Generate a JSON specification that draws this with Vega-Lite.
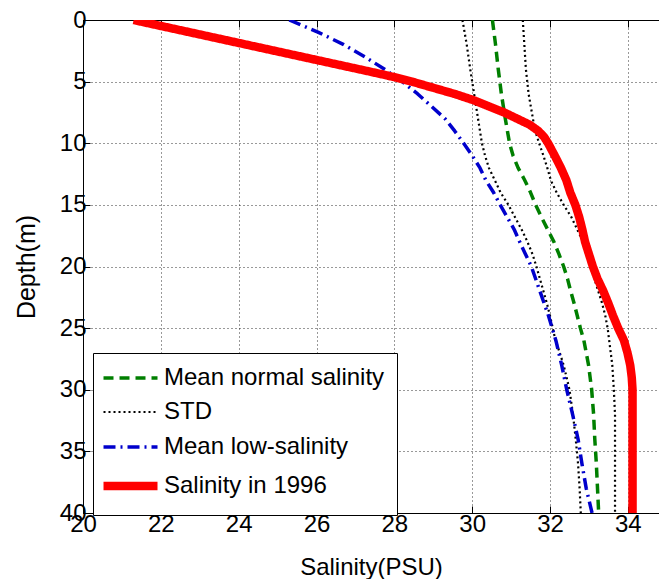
{
  "$schema": "https://vega.github.io/schema/vega-lite/v6.json",
  "autosize": {"type": "none"},
  "padding": {"left": 83, "top": 20, "right": 0, "bottom": 66},
  "width": 576,
  "height": 493,
  "background": "white",
  "config": {
    "view": {"stroke": null},
    "font": "Liberation Sans",
    "axis": {
      "domainColor": "black",
      "domainWidth": 1,
      "labelColor": "black",
      "labelFont": "Liberation Sans",
      "labelFontSize": 24,
      "labelOverlap": false,
      "labelFlush": false,
      "labelBound": false,
      "titleFont": "Liberation Sans",
      "titleFontSize": 24,
      "titleFontWeight": "normal",
      "titleColor": "black",
      "tickColor": "black",
      "tickSize": -7,
      "tickWidth": 1,
      "gridColor": "black",
      "gridDash": [1, 3],
      "gridOpacity": 0.8,
      "gridWidth": 1
    },
    "legend": {
      "orient": "none",
      "legendX": 10,
      "legendY": 333,
      "padding": 12,
      "strokeColor": "black",
      "fillColor": "white",
      "symbolType": "M-1.545,0H3.364",
      "symbolSize": 484,
      "labelFont": "Liberation Sans",
      "labelFontSize": 24,
      "labelColor": "black",
      "labelOffset": 28,
      "labelLimit": 400,
      "rowPadding": 9.5,
      "title": null
    }
  },
  "data": {
    "values": [
      {"series": "Mean normal salinity", "line": "g", "depth": 0, "salinity": 30.52},
      {"series": "Mean normal salinity", "line": "g", "depth": 2, "salinity": 30.6},
      {"series": "Mean normal salinity", "line": "g", "depth": 4, "salinity": 30.67},
      {"series": "Mean normal salinity", "line": "g", "depth": 6, "salinity": 30.75},
      {"series": "Mean normal salinity", "line": "g", "depth": 8, "salinity": 30.85},
      {"series": "Mean normal salinity", "line": "g", "depth": 10, "salinity": 30.96},
      {"series": "Mean normal salinity", "line": "g", "depth": 11, "salinity": 31.05},
      {"series": "Mean normal salinity", "line": "g", "depth": 12, "salinity": 31.18},
      {"series": "Mean normal salinity", "line": "g", "depth": 13, "salinity": 31.35},
      {"series": "Mean normal salinity", "line": "g", "depth": 14, "salinity": 31.5},
      {"series": "Mean normal salinity", "line": "g", "depth": 15, "salinity": 31.63},
      {"series": "Mean normal salinity", "line": "g", "depth": 16, "salinity": 31.78},
      {"series": "Mean normal salinity", "line": "g", "depth": 17, "salinity": 31.94},
      {"series": "Mean normal salinity", "line": "g", "depth": 18, "salinity": 32.1},
      {"series": "Mean normal salinity", "line": "g", "depth": 19, "salinity": 32.23},
      {"series": "Mean normal salinity", "line": "g", "depth": 20, "salinity": 32.35},
      {"series": "Mean normal salinity", "line": "g", "depth": 21, "salinity": 32.45},
      {"series": "Mean normal salinity", "line": "g", "depth": 22, "salinity": 32.53},
      {"series": "Mean normal salinity", "line": "g", "depth": 23, "salinity": 32.62},
      {"series": "Mean normal salinity", "line": "g", "depth": 24, "salinity": 32.7},
      {"series": "Mean normal salinity", "line": "g", "depth": 25, "salinity": 32.78},
      {"series": "Mean normal salinity", "line": "g", "depth": 26, "salinity": 32.87},
      {"series": "Mean normal salinity", "line": "g", "depth": 27, "salinity": 32.93},
      {"series": "Mean normal salinity", "line": "g", "depth": 28, "salinity": 32.99},
      {"series": "Mean normal salinity", "line": "g", "depth": 30, "salinity": 33.07},
      {"series": "Mean normal salinity", "line": "g", "depth": 32, "salinity": 33.12},
      {"series": "Mean normal salinity", "line": "g", "depth": 34, "salinity": 33.15},
      {"series": "Mean normal salinity", "line": "g", "depth": 36, "salinity": 33.19},
      {"series": "Mean normal salinity", "line": "g", "depth": 38, "salinity": 33.22},
      {"series": "Mean normal salinity", "line": "g", "depth": 40, "salinity": 33.25},

      {"series": "STD", "line": "stdL", "depth": 0, "salinity": 29.75},
      {"series": "STD", "line": "stdL", "depth": 2, "salinity": 29.86},
      {"series": "STD", "line": "stdL", "depth": 4, "salinity": 29.95},
      {"series": "STD", "line": "stdL", "depth": 6, "salinity": 30.05},
      {"series": "STD", "line": "stdL", "depth": 8, "salinity": 30.15},
      {"series": "STD", "line": "stdL", "depth": 10, "salinity": 30.25},
      {"series": "STD", "line": "stdL", "depth": 11, "salinity": 30.33},
      {"series": "STD", "line": "stdL", "depth": 12, "salinity": 30.43},
      {"series": "STD", "line": "stdL", "depth": 13, "salinity": 30.58},
      {"series": "STD", "line": "stdL", "depth": 14, "salinity": 30.73},
      {"series": "STD", "line": "stdL", "depth": 15, "salinity": 30.93},
      {"series": "STD", "line": "stdL", "depth": 16, "salinity": 31.1},
      {"series": "STD", "line": "stdL", "depth": 17, "salinity": 31.27},
      {"series": "STD", "line": "stdL", "depth": 18, "salinity": 31.42},
      {"series": "STD", "line": "stdL", "depth": 19, "salinity": 31.55},
      {"series": "STD", "line": "stdL", "depth": 20, "salinity": 31.65},
      {"series": "STD", "line": "stdL", "depth": 21, "salinity": 31.74},
      {"series": "STD", "line": "stdL", "depth": 22, "salinity": 31.83},
      {"series": "STD", "line": "stdL", "depth": 23, "salinity": 31.92},
      {"series": "STD", "line": "stdL", "depth": 24, "salinity": 32.0},
      {"series": "STD", "line": "stdL", "depth": 25, "salinity": 32.07},
      {"series": "STD", "line": "stdL", "depth": 26, "salinity": 32.14},
      {"series": "STD", "line": "stdL", "depth": 27, "salinity": 32.25},
      {"series": "STD", "line": "stdL", "depth": 28, "salinity": 32.35},
      {"series": "STD", "line": "stdL", "depth": 30, "salinity": 32.5},
      {"series": "STD", "line": "stdL", "depth": 32, "salinity": 32.59},
      {"series": "STD", "line": "stdL", "depth": 34, "salinity": 32.66},
      {"series": "STD", "line": "stdL", "depth": 36, "salinity": 32.72},
      {"series": "STD", "line": "stdL", "depth": 38, "salinity": 32.76},
      {"series": "STD", "line": "stdL", "depth": 40, "salinity": 32.79},

      {"series": "STD", "line": "stdR", "depth": 0, "salinity": 31.3},
      {"series": "STD", "line": "stdR", "depth": 2, "salinity": 31.34},
      {"series": "STD", "line": "stdR", "depth": 4, "salinity": 31.38},
      {"series": "STD", "line": "stdR", "depth": 6, "salinity": 31.45},
      {"series": "STD", "line": "stdR", "depth": 8, "salinity": 31.56},
      {"series": "STD", "line": "stdR", "depth": 9, "salinity": 31.62},
      {"series": "STD", "line": "stdR", "depth": 10, "salinity": 31.72},
      {"series": "STD", "line": "stdR", "depth": 11, "salinity": 31.83},
      {"series": "STD", "line": "stdR", "depth": 12, "salinity": 31.93},
      {"series": "STD", "line": "stdR", "depth": 13, "salinity": 32.02},
      {"series": "STD", "line": "stdR", "depth": 14, "salinity": 32.17},
      {"series": "STD", "line": "stdR", "depth": 15, "salinity": 32.35},
      {"series": "STD", "line": "stdR", "depth": 16, "salinity": 32.55},
      {"series": "STD", "line": "stdR", "depth": 17, "salinity": 32.7},
      {"series": "STD", "line": "stdR", "depth": 18, "salinity": 32.85},
      {"series": "STD", "line": "stdR", "depth": 19, "salinity": 32.95},
      {"series": "STD", "line": "stdR", "depth": 20, "salinity": 33.05},
      {"series": "STD", "line": "stdR", "depth": 21, "salinity": 33.14},
      {"series": "STD", "line": "stdR", "depth": 22, "salinity": 33.24},
      {"series": "STD", "line": "stdR", "depth": 23, "salinity": 33.34},
      {"series": "STD", "line": "stdR", "depth": 24, "salinity": 33.42},
      {"series": "STD", "line": "stdR", "depth": 25, "salinity": 33.48},
      {"series": "STD", "line": "stdR", "depth": 26, "salinity": 33.52},
      {"series": "STD", "line": "stdR", "depth": 27, "salinity": 33.56},
      {"series": "STD", "line": "stdR", "depth": 28, "salinity": 33.6},
      {"series": "STD", "line": "stdR", "depth": 30, "salinity": 33.64},
      {"series": "STD", "line": "stdR", "depth": 32, "salinity": 33.67},
      {"series": "STD", "line": "stdR", "depth": 40, "salinity": 33.67},

      {"series": "Mean low-salinity", "line": "b", "depth": 0, "salinity": 25.3},
      {"series": "Mean low-salinity", "line": "b", "depth": 1, "salinity": 26.05},
      {"series": "Mean low-salinity", "line": "b", "depth": 2, "salinity": 26.7},
      {"series": "Mean low-salinity", "line": "b", "depth": 3, "salinity": 27.25},
      {"series": "Mean low-salinity", "line": "b", "depth": 4, "salinity": 27.75},
      {"series": "Mean low-salinity", "line": "b", "depth": 5, "salinity": 28.2},
      {"series": "Mean low-salinity", "line": "b", "depth": 6, "salinity": 28.6},
      {"series": "Mean low-salinity", "line": "b", "depth": 7, "salinity": 28.95},
      {"series": "Mean low-salinity", "line": "b", "depth": 8, "salinity": 29.3},
      {"series": "Mean low-salinity", "line": "b", "depth": 9, "salinity": 29.55},
      {"series": "Mean low-salinity", "line": "b", "depth": 10, "salinity": 29.78},
      {"series": "Mean low-salinity", "line": "b", "depth": 11, "salinity": 30.0},
      {"series": "Mean low-salinity", "line": "b", "depth": 12, "salinity": 30.2},
      {"series": "Mean low-salinity", "line": "b", "depth": 13, "salinity": 30.35},
      {"series": "Mean low-salinity", "line": "b", "depth": 14, "salinity": 30.55},
      {"series": "Mean low-salinity", "line": "b", "depth": 15, "salinity": 30.72},
      {"series": "Mean low-salinity", "line": "b", "depth": 16, "salinity": 30.9},
      {"series": "Mean low-salinity", "line": "b", "depth": 17, "salinity": 31.08},
      {"series": "Mean low-salinity", "line": "b", "depth": 18, "salinity": 31.22},
      {"series": "Mean low-salinity", "line": "b", "depth": 19, "salinity": 31.37},
      {"series": "Mean low-salinity", "line": "b", "depth": 20, "salinity": 31.52},
      {"series": "Mean low-salinity", "line": "b", "depth": 22, "salinity": 31.74},
      {"series": "Mean low-salinity", "line": "b", "depth": 24, "salinity": 31.96},
      {"series": "Mean low-salinity", "line": "b", "depth": 26, "salinity": 32.15},
      {"series": "Mean low-salinity", "line": "b", "depth": 28, "salinity": 32.3},
      {"series": "Mean low-salinity", "line": "b", "depth": 30, "salinity": 32.43},
      {"series": "Mean low-salinity", "line": "b", "depth": 32, "salinity": 32.58},
      {"series": "Mean low-salinity", "line": "b", "depth": 34, "salinity": 32.72},
      {"series": "Mean low-salinity", "line": "b", "depth": 36, "salinity": 32.82},
      {"series": "Mean low-salinity", "line": "b", "depth": 38, "salinity": 32.93},
      {"series": "Mean low-salinity", "line": "b", "depth": 40, "salinity": 33.08},

      {"series": "Salinity in 1996", "line": "r", "depth": 0, "salinity": 21.3},
      {"series": "Salinity in 1996", "line": "r", "depth": 1, "salinity": 22.75},
      {"series": "Salinity in 1996", "line": "r", "depth": 2, "salinity": 24.2},
      {"series": "Salinity in 1996", "line": "r", "depth": 3, "salinity": 25.65},
      {"series": "Salinity in 1996", "line": "r", "depth": 4, "salinity": 27.1},
      {"series": "Salinity in 1996", "line": "r", "depth": 4.5, "salinity": 27.82},
      {"series": "Salinity in 1996", "line": "r", "depth": 5, "salinity": 28.45},
      {"series": "Salinity in 1996", "line": "r", "depth": 5.5, "salinity": 29.0},
      {"series": "Salinity in 1996", "line": "r", "depth": 6, "salinity": 29.55},
      {"series": "Salinity in 1996", "line": "r", "depth": 6.5, "salinity": 30.03},
      {"series": "Salinity in 1996", "line": "r", "depth": 7, "salinity": 30.42},
      {"series": "Salinity in 1996", "line": "r", "depth": 7.5, "salinity": 30.82},
      {"series": "Salinity in 1996", "line": "r", "depth": 8, "salinity": 31.15},
      {"series": "Salinity in 1996", "line": "r", "depth": 8.5, "salinity": 31.48},
      {"series": "Salinity in 1996", "line": "r", "depth": 9, "salinity": 31.7},
      {"series": "Salinity in 1996", "line": "r", "depth": 9.5, "salinity": 31.85},
      {"series": "Salinity in 1996", "line": "r", "depth": 10, "salinity": 31.95},
      {"series": "Salinity in 1996", "line": "r", "depth": 11, "salinity": 32.12},
      {"series": "Salinity in 1996", "line": "r", "depth": 12, "salinity": 32.28},
      {"series": "Salinity in 1996", "line": "r", "depth": 13, "salinity": 32.42},
      {"series": "Salinity in 1996", "line": "r", "depth": 14, "salinity": 32.52},
      {"series": "Salinity in 1996", "line": "r", "depth": 15, "salinity": 32.65},
      {"series": "Salinity in 1996", "line": "r", "depth": 16, "salinity": 32.75},
      {"series": "Salinity in 1996", "line": "r", "depth": 17, "salinity": 32.83},
      {"series": "Salinity in 1996", "line": "r", "depth": 18, "salinity": 32.9},
      {"series": "Salinity in 1996", "line": "r", "depth": 19, "salinity": 33.0},
      {"series": "Salinity in 1996", "line": "r", "depth": 20, "salinity": 33.1},
      {"series": "Salinity in 1996", "line": "r", "depth": 21, "salinity": 33.22},
      {"series": "Salinity in 1996", "line": "r", "depth": 22, "salinity": 33.37},
      {"series": "Salinity in 1996", "line": "r", "depth": 23, "salinity": 33.5},
      {"series": "Salinity in 1996", "line": "r", "depth": 24, "salinity": 33.62},
      {"series": "Salinity in 1996", "line": "r", "depth": 25, "salinity": 33.75},
      {"series": "Salinity in 1996", "line": "r", "depth": 26, "salinity": 33.9},
      {"series": "Salinity in 1996", "line": "r", "depth": 27, "salinity": 33.99},
      {"series": "Salinity in 1996", "line": "r", "depth": 28, "salinity": 34.06},
      {"series": "Salinity in 1996", "line": "r", "depth": 29, "salinity": 34.1},
      {"series": "Salinity in 1996", "line": "r", "depth": 30, "salinity": 34.12},
      {"series": "Salinity in 1996", "line": "r", "depth": 35, "salinity": 34.12},
      {"series": "Salinity in 1996", "line": "r", "depth": 40, "salinity": 34.12}
    ]
  },
  "layer": [
    {
      "mark": {"type": "line", "clip": true, "strokeCap": "butt", "strokeJoin": "round"},
      "encoding": {
        "x": {
          "field": "salinity",
          "type": "quantitative",
          "scale": {"domain": [20, 34.8], "nice": false, "zero": false},
          "axis": {
            "orient": "bottom",
            "title": "Salinity(PSU)",
            "values": [20, 22, 24, 26, 28, 30, 32, 34],
            "labelPadding": 6,
            "titlePadding": 19
          }
        },
        "y": {
          "field": "depth",
          "type": "quantitative",
          "scale": {"domain": [0, 40], "nice": false, "zero": false, "reverse": true},
          "axis": {
            "orient": "left",
            "title": "Depth(m)",
            "titleFontSize": 25,
            "values": [0, 5, 10, 15, 20, 25, 30, 35, 40],
            "labelPadding": 4,
            "titlePadding": 20
          }
        },
        "detail": {"field": "line"},
        "order": {"field": "depth", "type": "quantitative"},
        "color": {
          "field": "series",
          "type": "nominal",
          "scale": {
            "domain": ["Mean normal salinity", "STD", "Mean low-salinity", "Salinity in 1996"],
            "range": ["#007f00", "#000000", "#0000cc", "#ff0000"]
          }
        },
        "strokeDash": {
          "field": "series",
          "type": "nominal",
          "scale": {
            "domain": ["Mean normal salinity", "STD", "Mean low-salinity", "Salinity in 1996"],
            "range": [[10, 6], [2, 3], [12, 5, 2, 5], [1, 0]]
          }
        },
        "strokeWidth": {
          "field": "series",
          "type": "nominal",
          "scale": {
            "type": "ordinal",
            "domain": ["Mean normal salinity", "STD", "Mean low-salinity", "Salinity in 1996"],
            "range": [3.5, 2.2, 3.5, 8.5]
          }
        }
      }
    },
    {
      "mark": {"type": "point", "opacity": 0},
      "encoding": {
        "x": {
          "field": "salinity",
          "type": "quantitative",
          "axis": {
            "orient": "top",
            "title": null,
            "labels": false,
            "grid": false,
            "values": [20, 22, 24, 26, 28, 30, 32, 34]
          }
        }
      }
    }
  ]
}
